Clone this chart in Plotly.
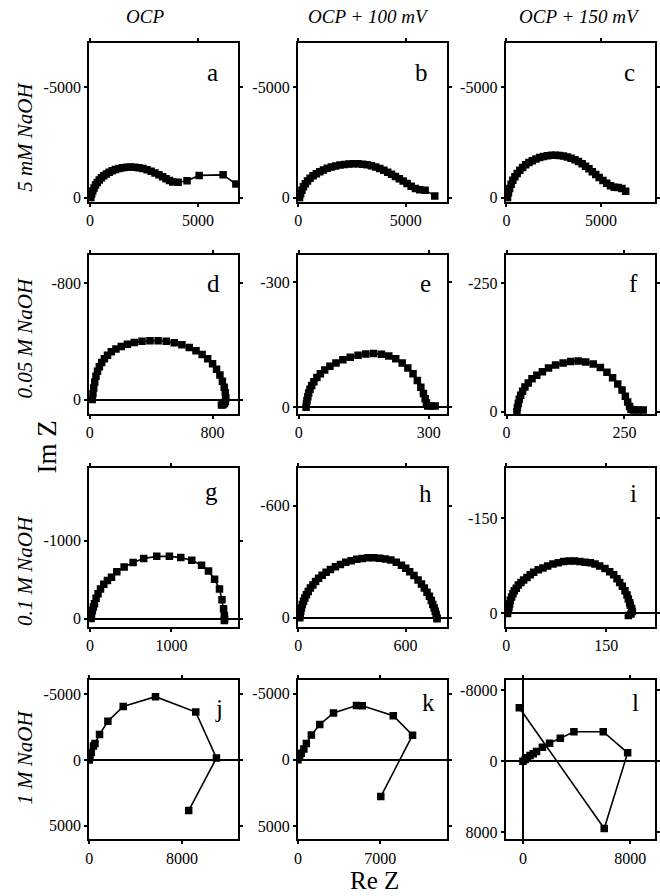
import plotly.graph_objects as go

W, H = 660, 896

# ---------------- data ----------------
col_titles = ["OCP", "OCP + 100 mV", "OCP + 150 mV"]
row_labels = ["5 mM NaOH", "0.05 M NaOH", "0.1 M NaOH", "1 M NaOH"]
panel_letters = ["a", "b", "c", "d", "e", "f", "g", "h", "i", "j", "k", "l"]

a_re = [40, 80, 130, 190, 260, 340, 430, 530, 640, 760, 890, 1030, 1180, 1340, 1510, 1690, 1880, 2070, 2260,
        2450, 2640, 2830, 3010, 3190, 3360, 3520, 3680, 3830, 4080, 4490, 5050, 6160, 6750]
a_im = [0, -165, -308, -440, -572, -693, -803, -902, -990, -1078, -1155, -1221, -1276, -1320, -1358, -1380, -1388,
        -1380, -1358, -1320, -1265, -1199, -1120, -1040, -950, -860, -780, -710, -700, -765, -1010, -1035, -615]

b_re = [60, 110, 170, 240, 330, 430, 550, 690, 840, 1000, 1170, 1350, 1540, 1740, 1940, 2150, 2360, 2570, 2780,
        2990, 3200, 3400, 3600, 3790, 3980, 4160, 4340, 4520, 4700, 4880, 5060, 5250, 5450, 5650, 5900, 6350]
b_im = [0, -180, -340, -490, -630, -760, -880, -990, -1090, -1180, -1260, -1330, -1390, -1440, -1480, -1510, -1530,
        -1540, -1535, -1520, -1490, -1450, -1390, -1320, -1240, -1150, -1060, -960, -860, -760, -640, -520, -420,
        -360, -340, -80]

c_re = [60, 110, 170, 250, 340, 450, 570, 710, 860, 1020, 1190, 1370, 1560, 1760, 1960, 2170, 2380, 2590, 2800,
        3010, 3220, 3420, 3620, 3810, 4000, 4180, 4360, 4540, 4720, 4900, 5100, 5300, 5500, 5700, 5900, 6100, 6300]
c_im = [0, -220, -420, -610, -790, -950, -1100, -1240, -1370, -1490, -1590, -1680, -1760, -1820, -1870, -1900,
        -1920, -1925, -1915, -1890, -1850, -1790, -1720, -1640, -1540, -1430, -1310, -1180, -1050, -920, -780,
        -650, -540, -470, -460, -420, -290]

d_re = [15, 20, 25, 32, 40, 50, 62, 77, 95, 115, 140, 170, 205, 245, 290, 340, 392, 445, 498, 550, 600, 648, 692,
        732, 768, 800, 826, 848, 864, 876, 883, 886, 884, 878, 868, 858]
d_im = [0, -40, -80, -120, -160, -195, -225, -255, -280, -305, -328, -348, -365, -380, -392, -400, -404, -404, -400,
        -390, -376, -358, -336, -310, -280, -246, -208, -168, -126, -84, -46, -12, 14, 28, 36, 38]

e_re = [17, 18, 19, 21, 23, 26, 30, 35, 42, 50, 60, 72, 86, 102, 119, 137, 155, 173, 191, 208, 224, 239, 252, 264,
        274, 282, 288, 292, 295, 298, 305, 315]
e_im = [0, -8, -16, -25, -34, -43, -52, -61, -71, -80, -89, -98, -106, -114, -120, -125, -128, -129, -127, -123,
        -116, -106, -94, -80, -64, -48, -33, -20, -10, -3, -3, -3]

f_re = [22, 23, 25, 27, 30, 34, 39, 46, 54, 64, 76, 89, 104, 120, 136, 152, 168, 184, 199, 213, 225, 236, 245, 252,
        257, 261, 264, 270, 280, 290]
f_im = [0, -8, -16, -24, -32, -40, -48, -56, -64, -71, -78, -85, -91, -95, -98, -99, -97, -93, -86, -77, -66, -54,
        -42, -30, -19, -10, -4, -3, -3, -3]

g_re = [15, 20, 30, 42, 56, 76, 100, 130, 170, 215, 265, 330, 420, 530, 660, 820, 975, 1115, 1250, 1370, 1455,
        1530, 1590, 1620, 1640, 1650, 1652, 1650]
g_im = [0, -50, -105, -150, -190, -260, -320, -380, -440, -490, -530, -600, -660, -720, -770, -798, -798, -782,
        -748, -685, -609, -504, -378, -240, -126, -40, 10, 25]

h_re = [9, 11, 14, 18, 23, 30, 37, 46, 56, 68, 82, 97, 114, 134, 156, 180, 208, 236, 266, 296, 327, 358, 390, 422,
        455, 487, 518, 548, 577, 601, 623, 647, 670, 689, 705, 720, 733, 744, 752, 760, 766, 771, 775, 776]
h_im = [0, -18, -35, -53, -71, -89, -106, -124, -141, -159, -176, -194, -212, -228, -244, -259, -274, -286, -298,
        -306, -314, -318, -321, -321, -319, -315, -309, -297, -282, -265, -247, -226, -203, -181, -159, -137, -115,
        -93, -71, -53, -35, -18, 0, 5]

i_re = [2, 3, 4, 5, 6, 8, 10, 12, 15, 18, 22, 26, 31, 36, 41, 48, 55, 62, 70, 78, 86, 94, 102, 110, 118, 126, 133,
        140, 148, 155, 161, 166, 170, 174, 178, 181, 183, 185, 186, 188, 189, 187, 183]
i_im = [0, -5, -10, -15, -21, -26, -31, -36, -40, -45, -49, -53, -57, -61, -65, -69, -72, -75, -78, -80, -82, -83,
        -83, -82, -81, -80, -78, -75, -71, -66, -61, -55, -49, -43, -36, -29, -23, -17, -13, -8, -3, 1, 3]

j_re = [0, 70, 180, 360, 500, 890, 1610, 2930, 5710, 9180, 10960, 8570]
j_im = [0, -200, -575, -1075, -1250, -1950, -2950, -4075, -4825, -3650, -150, 3850]

k_re = [0, 140, 280, 500, 710, 1140, 1850, 3020, 4975, 5470, 8100, 9740, 7040]
k_im = [0, -250, -495, -820, -1240, -1880, -2670, -3540, -4110, -4085, -3340, -1860, 2770]

l_re = [0, 170, 340, 530, 770, 1015, 1450, 1985, 2785, 3800, 5980, 7800, 6055, -270]
l_im = [0, -220, -405, -665, -850, -1110, -1590, -2035, -2590, -3330, -3330, -960, 7550, -6030]

series = [(a_re, a_im), (b_re, b_im), (c_re, c_im), (d_re, d_im), (e_re, e_im), (f_re, f_im),
          (g_re, g_im), (h_re, h_im), (i_re, i_im), (j_re, j_im), (k_re, k_im), (l_re, l_im)]

x_ranges = [[-40, 6870], [-20, 6930], [-40, 7850], [-5, 969], [-2, 343], [-2, 315],
            [-10, 1823], [-2, 833], [-1, 223], [-10, 12860], [-10, 12690], [-1290, 9840]]
y_ranges = [[180, -7030], [180, -7030], [180, -7030], [101, -992], [17, -365], [5, -305],
            [105, -1933], [48, -803], [21, -230], [6040, -6060], [6000, -6000], [8770, -9100]]
x_ticks = [[0, 5000], [0, 5000], [0, 5000], [0, 800], [0, 300], [0, 250],
           [0, 1000], [0, 600], [0, 150], [0, 8000], [0, 7000], [0, 8000]]
y_ticks = [[-5000, 0], [-5000, 0], [-5000, 0], [-800, 0], [-300, 0], [-250, 0],
           [-1000, 0], [-600, 0], [-150, 0], [-5000, 0, 5000], [-5000, 0, 5000], [-8000, 0, 8000]]
y_zero = [False, False, False, True, True, False, True, True, True, True, True, True]
x_zero = [False] * 11 + [True]

# ---------------- layout geometry (pixels) ----------------
col_px = [(86, 237), (297, 448), (507, 658)]
row_px = [(43, 203), (257, 417), (471, 631), (685, 845)]
letter_off = [(26, 30), (26, 30), (26, 30), (25, 28), (22, 28), (22, 28),
              (27, 24), (22, 26), (22, 26), (20, 28), (19, 22), (20, 22)]

SERIF = "Liberation Serif"
fig = go.Figure()
layout = dict(width=W, height=H, margin=dict(l=0, r=0, t=0, b=0),
              paper_bgcolor="white", plot_bgcolor="white", showlegend=False)
annotations = []

for idx, (xs, ys) in enumerate(series):
    r, c = divmod(idx, 3)
    n = idx + 1
    xa = "xaxis" if n == 1 else f"xaxis{n}"
    ya = "yaxis" if n == 1 else f"yaxis{n}"
    xref = "x" if n == 1 else f"x{n}"
    yref = "y" if n == 1 else f"y{n}"
    x0, x1 = col_px[c]
    y0, y1 = row_px[r]
    common = dict(showgrid=False, showline=True, linecolor="black", linewidth=2, mirror="ticks",
                  ticks="outside", ticklen=3, tickwidth=1.5, tickcolor="black",
                  tickfont=dict(family=SERIF, size=16, color="black"))
    layout[xa] = dict(domain=[x0 / W, x1 / W], range=x_ranges[idx], anchor=yref,
                      tickvals=x_ticks[idx], ticktext=[str(v) for v in x_ticks[idx]],
                      zeroline=x_zero[idx], zerolinecolor="black", zerolinewidth=2, **common)
    layout[ya] = dict(domain=[1 - y1 / H, 1 - y0 / H], range=y_ranges[idx], anchor=xref,
                      tickvals=y_ticks[idx], ticktext=[str(v) for v in y_ticks[idx]],
                      zeroline=y_zero[idx], zerolinecolor="black", zerolinewidth=2, **common)
    fig.add_trace(go.Scatter(x=xs, y=ys, xaxis=xref, yaxis=yref, mode="lines+markers",
                             line=dict(color="black", width=1.6),
                             marker=dict(symbol="square", size=7.5, color="black")))
    dx, dy = letter_off[idx]
    annotations.append(dict(text=panel_letters[idx], x=(x1 - dx) / W, y=1 - (y0 + dy) / H,
                            xref="paper", yref="paper", showarrow=False, xanchor="center", yanchor="middle",
                            font=dict(family=SERIF, size=25, color="black")))

title_x = [143, 368, 582]
for t, tx in zip(col_titles, title_x):
    annotations.append(dict(text=f"<i>{t}</i>", x=tx / W, y=1 - 17 / H, xref="paper", yref="paper",
                            showarrow=False, xanchor="center", yanchor="middle",
                            font=dict(family=SERIF, size=19, color="black")))

row_label_y = [138, 340, 574, 762]
for t, ty in zip(row_labels, row_label_y):
    annotations.append(dict(text=f"<i>{t}</i>", x=21 / W, y=1 - ty / H, xref="paper", yref="paper",
                            showarrow=False, xanchor="center", yanchor="middle", textangle=-90,
                            font=dict(family=SERIF, size=21, color="black")))

annotations.append(dict(text="Im Z", x=43 / W, y=1 - 450 / H, xref="paper", yref="paper", showarrow=False,
                        xanchor="center", yanchor="middle", textangle=-90,
                        font=dict(family=SERIF, size=27, color="black")))
annotations.append(dict(text="Re Z", x=374 / W, y=1 - 886 / H, xref="paper", yref="paper", showarrow=False,
                        xanchor="center", yanchor="middle", borderpad=0,
                        font=dict(family=SERIF, size=25, color="black")))

layout["annotations"] = annotations
fig.update_layout(**layout)
fig.write_html("out.html")
